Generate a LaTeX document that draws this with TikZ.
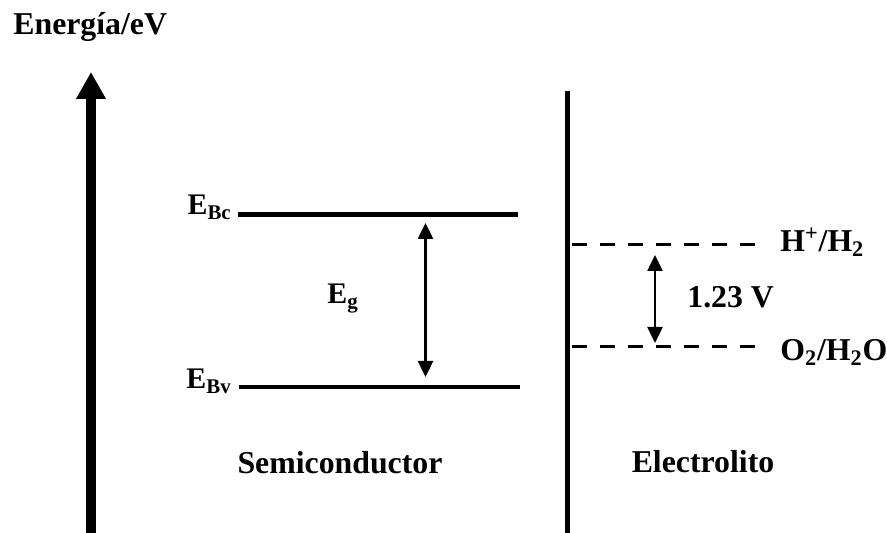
\documentclass[tikz,border=0pt]{standalone}
\usepackage{fontspec}
\setmainfont{Liberation Serif}
\usetikzlibrary{arrows.meta}

\begin{document}
\begin{tikzpicture}[>={Triangle[length=0.32cm,width=0.3cm]},
  lbl/.style={inner sep=0pt,font=\fontsize{18.1}{21}\selectfont\bfseries},
  elbl/.style={inner sep=0pt,font=\fontsize{17}{20}\selectfont\bfseries},
  level/.style={line width=0.095cm},
  redox/.style={line width=0.065cm,dash pattern=on 0.3cm off 0.26cm}]

\useasboundingbox (0,0) rectangle (17.74,10.66);

% ---------------- Energy axis ----------------
\coordinate (axis0) at (1.82,-0.2);
\coordinate (axis1) at (1.82,9.22);
\draw[line width=0.19cm,-{Triangle[length=0.54cm,width=0.56cm]}] (axis0) -- (axis1);
\node[lbl,anchor=base west] (energia) at (0.26,9.96) {Energía/eV};

% ---------------- Semiconductor ----------------
\coordinate (bc0) at (4.76,6.37);
\coordinate (bc1) at (10.36,6.37);
\coordinate (bv0) at (4.78,2.92);
\coordinate (bv1) at (10.4,2.92);
\draw[level] (bc0) -- (bc1);
\draw[level] (bv0) -- (bv1);

\node[elbl,anchor=base east] (ebc) at (4.64,6.36) {E\textsubscript{Bc}};
\node[elbl,anchor=base east] (ebv) at (4.64,2.88) {E\textsubscript{Bv}};

\coordinate (gap1) at (8.51,6.2);
\coordinate (gap0) at (8.51,3.12);
\draw[<->,line width=0.05cm] (gap1) -- (gap0);
\node[elbl,anchor=base] (eg) at (6.86,4.58) {E\textsubscript{g}};

\node[lbl,anchor=base] (semi) at (6.8,1.18) {Semiconductor};

% ---------------- Electrolyte ----------------
\coordinate (wall0) at (11.34,-0.2);
\coordinate (wall1) at (11.34,8.84);
\draw[line width=0.1cm] (wall0) -- (wall1);

\coordinate (hh0) at (11.44,5.77);
\coordinate (hh1) at (15.14,5.77);
\coordinate (oh0) at (11.44,3.73);
\coordinate (oh1) at (15.14,3.73);
\draw[redox] (hh0) -- (hh1);
\draw[redox] (oh0) -- (oh1);

\node[lbl,anchor=base west] (hh) at (15.6,5.62) {H\textsuperscript{+}/H\textsubscript{2}};
\node[lbl,anchor=base west] (oh) at (15.6,3.44) {O\textsubscript{2}/H\textsubscript{2}O};

\coordinate (pot1) at (13.1,5.56);
\coordinate (pot0) at (13.1,3.8);
\draw[<->,line width=0.05cm] (pot1) -- (pot0);
\node[lbl,anchor=base west] (volt) at (13.74,4.5) {1.23 V};

\node[lbl,anchor=base] (elec) at (14.06,1.2) {Electrolito};

\end{tikzpicture}
\end{document}
